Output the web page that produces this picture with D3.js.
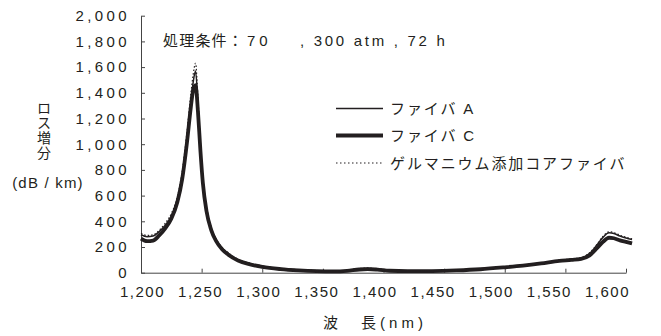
<!DOCTYPE html>
<html>
<head>
<meta charset="utf-8">
<script src="https://cdn.jsdelivr.net/npm/d3@7"></script>
<style>
  body { margin: 0; background: #fff; }
  svg { display: block; font-family: "Liberation Sans", "Noto Sans CJK JP", sans-serif; }
</style>
</head>
<body>
<svg id="chart" width="661" height="336"></svg>
<script>
// wavelength (nm)
const wavelengths = [1200,1205,1210,1215,1220,1225,1230,1234,1238,1241,1243,1245,1247,1249,1251,1254,1258,1262,1267,1272,
  1280,1290,1300,1315,1330,1345,1360,1370,1380,1387,1395,1405,1420,1440,1460,1480,1500,1515,1530,1545,
  1555,1563,1570,1576,1581,1586,1590,1595,1600,1605];

// loss increase (dB/km)
const fiberA = [295,280,285,320,370,440,570,760,1060,1330,1480,1570,1300,980,720,500,340,255,190,150,
  100,70,50,32,22,15,12,18,30,34,28,18,14,15,20,30,45,58,75,95,
  105,115,150,215,275,310,305,285,270,258];
const fiberC = [265,245,250,290,345,420,550,730,1020,1280,1420,1460,1250,950,700,480,330,245,180,140,
  95,65,45,28,18,12,10,15,25,28,24,15,12,13,18,27,42,55,72,92,
  100,108,135,190,240,272,268,252,240,228];
const geFiber = [305,290,295,330,385,460,590,790,1100,1380,1540,1630,1350,1010,740,515,350,262,195,155,
  104,72,52,34,23,16,13,19,32,36,30,19,15,16,21,31,46,59,77,97,
  107,118,155,220,282,318,312,292,276,264];

const xTicks = [1200,1250,1300,1350,1400,1450,1500,1550,1600];
const yTicks = [0,200,400,600,800,1000,1200,1400,1600,1800,2000];

const seriesNames = ["ファイバ A", "ファイバ C", "ゲルマニウム添加コアファイバ"];
const yTitleChars = ["ロ", "ス", "増", "分"];

const svg = d3.select("#chart");
const ink = "#231f20";

const x = d3.scaleLinear().domain([1200, 1600]).range([141, 626]);
// Excel spaces the category labels a bit tighter than the ticks
const xLabel = d3.scaleLinear().domain([1200, 1600]).range([142, 607]);
const y = d3.scaleLinear().domain([0, 2000]).range([272.7, 15.7]);

const fmt = d3.format(",");

// y axis
const yAxis = svg.append("g")
  .attr("transform", `translate(${x(1200)},0)`)
  .call(d3.axisRight(y).tickValues(yTicks).tickSize(4).tickFormat(fmt).tickSizeOuter(0));
yAxis.select(".domain").attr("stroke", "#444");
yAxis.selectAll(".tick line").attr("stroke", "#444");
yAxis.selectAll(".tick text")
  .attr("x", -11)
  .attr("text-anchor", "end")
  .attr("fill", ink)
  .style("font-size", "15px")
  .style("letter-spacing", "3.4px");

// x axis
const xAxis = svg.append("g")
  .attr("transform", `translate(0,${y(0)})`)
  .call(d3.axisTop(x).tickValues(xTicks).tickSize(4).tickFormat(fmt).tickSizeOuter(0));
xAxis.select(".domain").attr("stroke", "#444");
xAxis.selectAll(".tick line").attr("stroke", "#444");
xAxis.selectAll(".tick text")
  .attr("x", d => xLabel(d) - x(d))
  .attr("y", 24)
  .attr("text-anchor", "middle")
  .attr("fill", ink)
  .style("font-size", "15px")
  .style("letter-spacing", "1.5px");

// curves
const rows = wavelengths.map((w, i) => ({ w, a: fiberA[i], c: fiberC[i], g: geFiber[i] }));
const line = key => d3.line().x(d => x(d.w)).y(d => y(d[key])).curve(d3.curveMonotoneX)(rows);

svg.append("path").attr("d", line("c"))
  .attr("fill", "none").attr("stroke", ink).attr("stroke-width", 3.8);
svg.append("path").attr("d", line("a"))
  .attr("fill", "none").attr("stroke", ink).attr("stroke-width", 1.5);
svg.append("path").attr("d", line("g"))
  .attr("fill", "none").attr("stroke", ink).attr("stroke-width", 1.2)
  .attr("stroke-dasharray", "1.5,2");

// title
const title = svg.append("text")
  .attr("y", 46)
  .attr("fill", ink)
  .style("font-size", "15px");
title.append("tspan").attr("x", 163).style("letter-spacing", "1.2px").text("処理条件：");
title.append("tspan").attr("x", 247).style("letter-spacing", "4px").text("70");
title.append("tspan").attr("x", 300).style("letter-spacing", "2.7px").text(", 300 atm , 72 h");

// legend
const legend = [
  { name: seriesNames[0], w: 1.4, dash: null, y: 108.5 },
  { name: seriesNames[1], w: 4, dash: null, y: 135.5 },
  { name: seriesNames[2], w: 1.2, dash: "1.5,2.5", y: 163 }
];
legend.forEach(l => {
  svg.append("line")
    .attr("x1", 336).attr("x2", 383)
    .attr("y1", l.y).attr("y2", l.y)
    .attr("stroke", ink).attr("stroke-width", l.w)
    .attr("stroke-dasharray", l.dash);
  svg.append("text")
    .attr("x", 390).attr("y", l.y + 5.5)
    .attr("fill", ink)
    .style("font-size", "15px")
    .style("letter-spacing", "1.9px")
    .text(l.name);
});

// y title, stacked vertically
const yTitle = svg.append("text")
  .attr("fill", ink)
  .attr("text-anchor", "middle")
  .style("font-size", "14px");
yTitleChars.forEach((ch, i) => {
  yTitle.append("tspan")
    .attr("x", 44).attr("y", 113 + i * 15)
    .text(ch);
});
svg.append("text")
  .attr("x", 48).attr("y", 188)
  .attr("text-anchor", "middle")
  .attr("fill", ink)
  .style("font-size", "15px")
  .style("letter-spacing", "1.2px")
  .text("(dB / km)");

// x title
svg.append("text")
  .attr("x", 375).attr("y", 328)
  .attr("text-anchor", "middle")
  .attr("fill", ink)
  .style("font-size", "15px")
  .style("letter-spacing", "4px")
  .text("波　長(nm)");
</script>
</body>
</html>
